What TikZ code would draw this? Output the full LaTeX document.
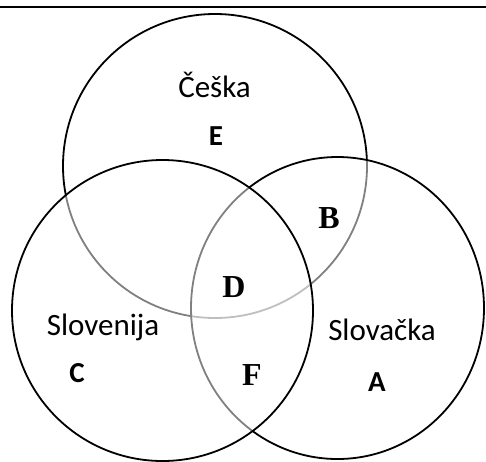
\documentclass[tikz,border=0pt]{standalone}
\usepackage{fontspec}
\setmainfont{Carlito}
\newfontfamily\serifbold{Liberation Serif}
\begin{document}
\begin{tikzpicture}[x=1pt,y=-1pt,
  ring/.style={draw=black, line width=1.8pt, fill=white, fill opacity=0.5},
  lab/.style={font=\fontsize{31}{36}\selectfont, anchor=base, inner sep=0pt},
  sanslet/.style={font=\fontsize{29}{32}\selectfont\bfseries, anchor=base, inner sep=0pt},
  seriflet/.style={font=\fontsize{32}{36}\selectfont\serifbold\bfseries, anchor=base, inner sep=0pt}]
\useasboundingbox (0,0) rectangle (486,461);
\draw[line width=2pt] (0,7) -- (486,7);
% circles: top, right, left
\draw[ring] (215,166) circle[radius=152];
\draw[ring] (337.5,308) ellipse[x radius=146.5, y radius=151];
\draw[ring] (162.5,310.5) circle[radius=150.5];
% labels
\node[lab] (ceska) at (214.5,97) {Češka};
\node[sanslet] (e) at (216,145) {E};
\node[seriflet] (b) at (329,228) {B};
\node[seriflet] (d) at (234,297) {D};
\node[lab] (slovenija) at (103,335) {Slovenija};
\node[sanslet] (c) at (77,382) {C};
\node[seriflet] (f) at (252,385) {F};
\node[lab] (slovacka) at (382,340) {Slovačka};
\node[sanslet] (a) at (377,391) {A};
\end{tikzpicture}
\end{document}
